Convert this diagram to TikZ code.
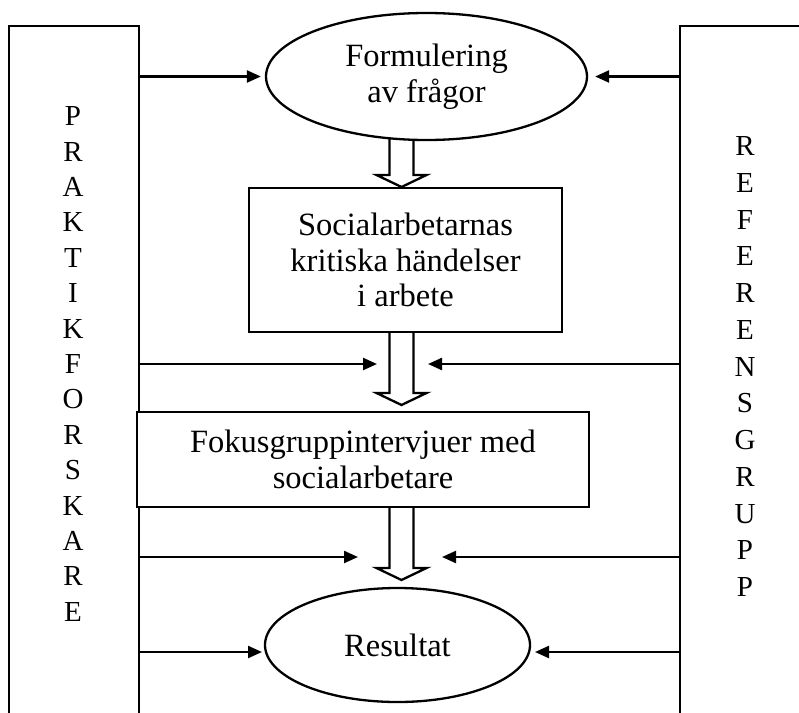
\documentclass[tikz,border=0pt]{standalone}
\usepackage{fontspec}
\setmainfont{Liberation Serif}
\usetikzlibrary{arrows.meta,shapes.geometric}
\begin{document}
\begin{tikzpicture}[x=1pt,y=-1pt,line width=2.3pt,
  txt/.style={font=\fontsize{32.5}{35.5}\selectfont},
  proc/.style={txt,draw,rectangle,inner sep=0pt,align=center,fill=white},
  oval/.style={txt,draw,ellipse,inner sep=0pt,align=center,fill=white},
  panel/.style={inner sep=0pt,minimum height=700pt,anchor=north west},
  col/.style={inner sep=0pt,align=center},
  flow/.style={-{Triangle[length=14pt,width=12pt]}},
  barrow/.pic={\filldraw[fill=white,line join=miter] (-12,-#1) -- (-12,-12) -- (-25,-12) -- (0,0) -- (25,-12) -- (12,-12) -- (12,-#1);}
]
\useasboundingbox (0,0) rectangle (799,712);
% side panels
\node[panel,minimum width=128pt] (lp) at (9,26) {};
\node[panel,minimum width=140pt] (rp) at (680,26) {};
\draw (lp.south west) -- (lp.north west) -- (lp.north east) -- (lp.south east);
\draw (rp.south west) -- (rp.north west) -- (rp.north east) -- (rp.south east);
\node[col,font=\fontsize{29}{35.4}\selectfont] (lt) at (73,364) {P\\R\\A\\K\\T\\I\\K\\F\\O\\R\\S\\K\\A\\R\\E};
\node[col,font=\fontsize{29}{36.75}\selectfont] (rt) at (745,366.5) {R\\E\\F\\E\\R\\E\\N\\S\\G\\R\\U\\P\\P};
% block arrows
\pic at (401.5,187) {barrow=57};
\pic at (401.5,405) {barrow=72};
\pic at (401.5,580) {barrow=73};
% main nodes
\node[oval,minimum width=321pt,minimum height=127pt] (f) at (426.5,76.5) {Formulering\\av frågor};
\node[proc,minimum width=313pt,minimum height=144pt] (s) at (405.5,260) {Socialarbetarnas\\kritiska händelser\\i arbete};
\node[proc,minimum width=452pt,minimum height=95pt] (g) at (363,459.5) {Fokusgruppintervjuer med\\socialarbetare};
\node[oval,minimum width=265pt,minimum height=114pt] (r) at (397.5,645) {Resultat};
% free ends of side arrows
\coordinate (a2l) at (377,364);
\coordinate (a2r) at (428,364);
\coordinate (a3l) at (358,557);
\coordinate (a3r) at (442,557);
\coordinate (a4l) at (262,652);
\coordinate (a4r) at (535,652);
% side arrows
\draw[flow] (lp.east |- f.west) -- ([xshift=-4pt]f.west);
\draw[flow] (rp.west |- f.east) -- ([xshift=7pt]f.east);
\draw[flow] (lp.east |- a2l) -- (a2l);
\draw[flow] (rp.west |- a2r) -- (a2r);
\draw[flow] (lp.east |- a3l) -- (a3l);
\draw[flow] (rp.west |- a3r) -- (a3r);
\draw[flow] (lp.east |- a4l) -- (a4l);
\draw[flow] (rp.west |- a4r) -- (a4r);
\end{tikzpicture}
\end{document}
